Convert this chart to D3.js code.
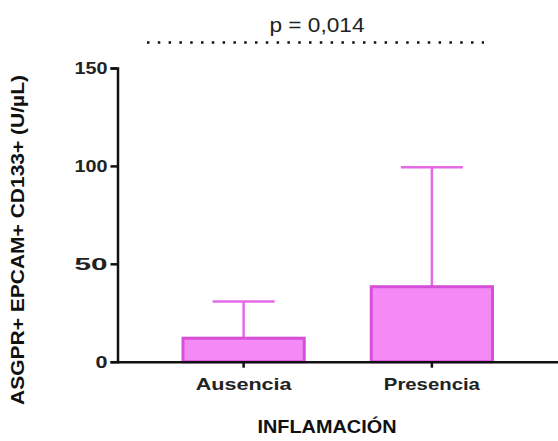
<!DOCTYPE html>
<html>
<head>
<meta charset="utf-8">
<script src="https://cdn.jsdelivr.net/npm/d3@7"></script>
<style>
  html, body { margin: 0; padding: 0; background: #fff; }
  svg { display: block; font-family: "Liberation Sans", Arial, sans-serif; }
</style>
</head>
<body>
<div id="chart"></div>
<script>
const categories = ['Ausencia', 'Presencia'];
const means = [12, 38.3];
const upperErr = [30.7, 99.3];
const yTicks = [0, 50, 100, 150];
const pLabel = 'p = 0,014';

const W = 558, H = 441;
const svg = d3.select('#chart').append('svg')
  .attr('width', W).attr('height', H);

const x = d3.scaleBand()
  .domain(categories)
  .range([117.5, 558])
  .paddingInner(0.34)
  .paddingOuter(0.34);

const y = d3.scaleLinear().domain([0, 150]).range([361.7, 68]);

const barFill = '#f58af6';
const barStroke = '#d64fd9';
const errColor = '#e46ae6';

// error bars (drawn under bars)
const capW = 62;
categories.forEach((c, i) => {
  const cx = x(c) + x.bandwidth() / 2;
  svg.append('line')
    .attr('x1', cx).attr('x2', cx)
    .attr('y1', y(means[i])).attr('y2', y(upperErr[i]))
    .attr('stroke', errColor).attr('stroke-width', 2.5);
  svg.append('line')
    .attr('x1', cx - capW / 2).attr('x2', cx + capW / 2)
    .attr('y1', y(upperErr[i])).attr('y2', y(upperErr[i]))
    .attr('stroke', errColor).attr('stroke-width', 2.5);
});

// bars
svg.selectAll('.bar')
  .data(categories)
  .join('rect')
  .attr('x', d => x(d) + 1.5)
  .attr('y', (d, i) => y(means[i]))
  .attr('width', x.bandwidth() - 3)
  .attr('height', (d, i) => y(0) - y(means[i]))
  .attr('fill', barFill)
  .attr('stroke', barStroke)
  .attr('stroke-width', 3);

// y axis
const yAxis = svg.append('g')
  .attr('transform', 'translate(117.5,0)')
  .call(d3.axisLeft(y).tickValues(yTicks).tickSize(7).tickPadding(3));
yAxis.select('.domain').attr('stroke', '#111').attr('stroke-width', 2.5);
yAxis.selectAll('.tick line').attr('stroke', '#111').attr('stroke-width', 2.5);
yAxis.selectAll('.tick text')
  .attr('font-size', 17).attr('font-weight', 'bold').attr('fill', '#222')
  .attr('font-family', '"Liberation Sans", Arial, sans-serif')
  .attr('textLength', 33).attr('lengthAdjust', 'spacingAndGlyphs');
yAxis.selectAll('.tick').filter(d => d === 0).select('text')
  .attr('textLength', 12);

// x axis
const xAxis = svg.append('g')
  .attr('transform', `translate(0,${y(0)})`)
  .call(d3.axisBottom(x).tickSize(6).tickPadding(10).tickSizeOuter(0));
xAxis.select('.domain').attr('stroke', '#111').attr('stroke-width', 2.5);
xAxis.selectAll('.tick line').attr('stroke', '#111').attr('stroke-width', 2.5);
xAxis.selectAll('.tick text')
  .attr('font-size', 17).attr('font-weight', 'bold').attr('fill', '#222')
  .attr('font-family', '"Liberation Sans", Arial, sans-serif')
  .attr('textLength', 96).attr('lengthAdjust', 'spacingAndGlyphs');

// axis titles
svg.append('text')
  .attr('x', 327).attr('y', 433)
  .attr('text-anchor', 'middle')
  .attr('font-size', 19).attr('font-weight', 'bold').attr('fill', '#111')
  .attr('textLength', 139).attr('lengthAdjust', 'spacingAndGlyphs')
  .text('INFLAMACIÓN');

svg.append('text')
  .attr('transform', 'translate(24,240) rotate(-90)')
  .attr('text-anchor', 'middle')
  .attr('font-size', 18).attr('font-weight', 'bold').attr('fill', '#111')
  .attr('textLength', 330).attr('lengthAdjust', 'spacingAndGlyphs')
  .text('ASGPR+ EPCAM+ CD133+ (U/µL)');

// significance line
svg.append('line')
  .attr('x1', 147).attr('x2', 484)
  .attr('y1', 42.5).attr('y2', 42.5)
  .attr('stroke', '#111').attr('stroke-width', 2.5)
  .attr('stroke-dasharray', '2.5 8.3');

svg.append('text')
  .attr('x', 317).attr('y', 32)
  .attr('text-anchor', 'middle')
  .attr('font-size', 20).attr('fill', '#222')
  .attr('textLength', 95).attr('lengthAdjust', 'spacingAndGlyphs')
  .text(pLabel);
</script>
</body>
</html>
